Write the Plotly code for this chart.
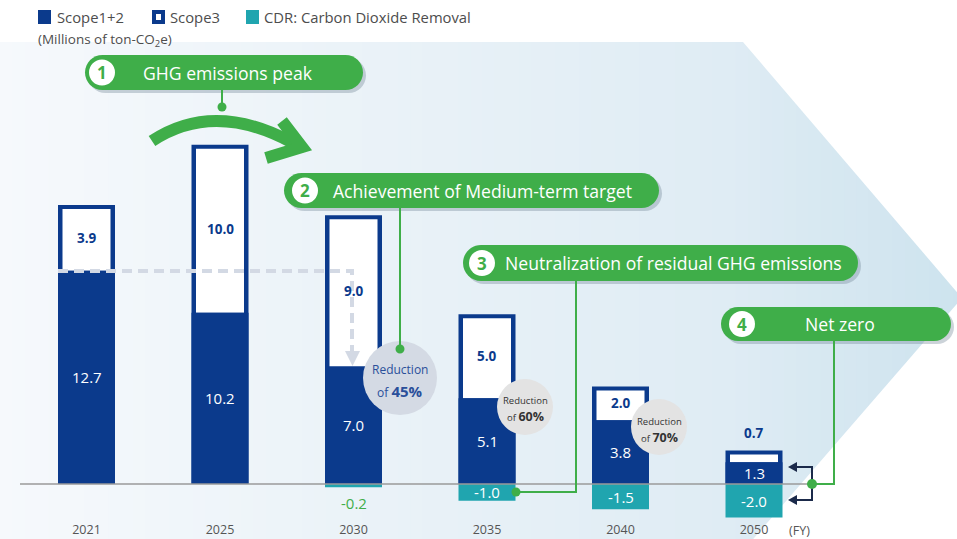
import plotly.graph_objects as go

# ---------------- data ----------------
years = ['2021', '2025', '2030', '2035', '2040', '2050']
scope12 = [12.7, 10.2, 7.0, 5.1, 3.8, 1.3]
scope3 = [3.9, 10.0, 9.0, 5.0, 2.0, 0.7]
cdr = [None, None, -0.2, -1.0, -1.5, -2.0]
reduction_pct = [None, None, '45%', '60%', '70%', None]
milestones = ['GHG emissions peak', 'Achievement of Medium-term target',
              'Neutralization of residual GHG emissions', 'Net zero']

# ---------------- style ----------------
NAVY = '#0b3a8c'
TEAL = '#20a5af'
GREEN = '#3fae49'
FONT = 'Open Sans'
W, H = 957, 539

# pixel -> data helpers for decorations
PX0, STEP, Y0, UNIT = 86.5, 133.5, 484, 16.8
def X(px): return (px - PX0) / STEP
def Y(py): return (Y0 - py) / UNIT

xs = list(range(len(years)))
totals = [a + b for a, b in zip(scope12, scope3)]
BW = 57 / STEP
IW = 48 / STEP
INSET = 4 / UNIT

fig = go.Figure()

# bars
fig.add_trace(go.Bar(x=xs, y=totals, width=BW, marker=dict(color=NAVY, line=dict(width=0)),
                     name='Scope3 outline', showlegend=False, hoverinfo='skip'))
fig.add_trace(go.Bar(x=xs, y=[v - INSET for v in scope3], base=scope12, width=IW,
                     marker=dict(color='white', line=dict(width=0)), name='Scope3', showlegend=False))
fig.add_trace(go.Bar(x=xs, y=scope12, width=BW, marker=dict(color=NAVY, line=dict(width=0)),
                     name='Scope1+2', showlegend=False))
fig.add_trace(go.Bar(x=xs, y=cdr, width=BW, marker=dict(color=TEAL, line=dict(width=0)),
                     name='CDR', showlegend=False))

shapes = []
ann = []

def line(pts, color, width, dash=None):
    p = 'M ' + ' L '.join(f'{X(a)},{Y(b)}' for a, b in pts)
    shapes.append(dict(type='path', path=p, line=dict(color=color, width=width, dash=dash),
                       xref='x', yref='y'))

def poly(pts, color, layer='above'):
    p = 'M ' + ' L '.join(f'{X(a)},{Y(b)}' for a, b in pts) + ' Z'
    shapes.append(dict(type='path', path=p, fillcolor=color, line=dict(width=0), xref='x', yref='y',
                       layer=layer))

def circle(cx, cy, r, color):
    shapes.append(dict(type='circle', x0=X(cx - r), x1=X(cx + r), y0=Y(cy + r), y1=Y(cy - r),
                       fillcolor=color, line=dict(width=0), xref='x', yref='y'))

def pill(x0, y0, x1, y1, color):
    r = (y1 - y0) / 2
    k = 0.5523 * r
    P = lambda a, b: f'{X(a)},{Y(b)}'
    p = (f'M {P(x0 + r, y0)} L {P(x1 - r, y0)} '
         f'C {P(x1 - r + k, y0)} {P(x1, y0 + r - k)} {P(x1, y0 + r)} '
         f'C {P(x1, y0 + r + k)} {P(x1 - r + k, y1)} {P(x1 - r, y1)} '
         f'L {P(x0 + r, y1)} '
         f'C {P(x0 + r - k, y1)} {P(x0, y0 + r + k)} {P(x0, y0 + r)} '
         f'C {P(x0, y0 + r - k)} {P(x0 + r - k, y0)} {P(x0 + r, y0)} Z')
    shapes.append(dict(type='path', path=p, fillcolor=color, line=dict(width=0), xref='x', yref='y'))

def text(px, py, s, size, color, bold=False, anchor='center'):
    ann.append(dict(x=X(px), y=Y(py), xref='x', yref='y', text=(f'<b>{s}</b>' if bold else s),
                    showarrow=False, xanchor=anchor, yanchor='middle',
                    font=dict(family=FONT, size=size, color=color)))

# background arrow: horizontal gradient stripes, trimmed by white triangles
def mix(c1, c2, t):
    a = [int(c1[i:i + 2], 16) for i in (1, 3, 5)]
    b = [int(c2[i:i + 2], 16) for i in (1, 3, 5)]
    return '#' + ''.join(f'{round(u + (v - u) * t):02x}' for u, v in zip(a, b))

NS = 80
sw = 965 / NS
for i in range(NS):
    t = (i + 0.5) / NS
    c = mix('#f6f9fc', '#dfecf4', t / 0.75) if t < 0.75 else mix('#dfecf4', '#cde3ee', (t - 0.75) / 0.25)
    poly([(i * sw, 42), ((i + 1) * sw + 1, 42), ((i + 1) * sw + 1, 545), (i * sw, 545)], c, 'below')
poly([(743, 42), (962, 298), (975, 298), (975, 30), (743, 30)], 'white', 'below')
poly([(962, 298), (748, 545), (975, 545), (975, 298)], 'white', 'below')

# baseline
line([(20, 484), (812, 484)], '#9a9a9a', 1.5)

# dashed reference from 2021 scope1+2 level
line([(58, 271), (352, 271), (352, 351)], '#d3d9e4', 4, '10px,6px')
poly([(345, 351), (360, 351), (352.5, 366)], '#d3d9e4')

# reduction circles
circ = {2: (400, 378, 37, '#d4dae4', '#2a4f9a', 12, 15, 369, 391),
        3: (525, 407, 28, '#e3e3e3', '#333333', 9.5, 12.5, 400, 416),
        4: (659, 427, 28, '#e3e3e3', '#333333', 9.5, 12.5, 421, 437)}
for i, pct in enumerate(reduction_pct):
    if pct is None:
        continue
    cx, cy, r, fc, tc, s1, s2, ty1, ty2 = circ[i]
    circle(cx, cy, r, fc)
    text(cx, ty1, 'Reduction', s1, tc)
    text(cx, ty2, f'of <b><span style="font-size:{s2}px">{pct}</span></b>', s1, tc)

# green curved arrow
shapes.append(dict(type='path',
                   path=f'M {X(152)},{Y(141)} Q {X(214)},{Y(100)} {X(293)},{Y(143)}',
                   line=dict(color=GREEN, width=12), xref='x', yref='y'))
line([(282, 121), (302, 147), (266, 158)], GREEN, 12)

# callouts
pills = [(85, 55, 363, 90, 102, 228), (284, 173, 659, 208, 305, 482),
         (463, 245, 858, 281, 482, 673), (721, 307, 951, 341, 742, 840)]
for k, (x0, y0, x1, y1, nc, tc) in enumerate(pills):
    pill(x0 + 3, y0 + 3, x1 + 3, y1 + 3, 'rgba(110,130,145,0.35)')
    pill(x0, y0, x1, y1, GREEN)
    cy = (y0 + y1) / 2
    circle(nc, cy, 13, 'white')
    text(nc, cy, str(k + 1), 17, GREEN, bold=True)
    text(tc, cy, milestones[k], 17.6, 'white')

# connectors
line([(222, 90), (222, 106)], GREEN, 2)
circle(222, 107, 4.5, GREEN)
line([(400, 208), (400, 349)], GREEN, 2)
circle(400, 349, 4.5, GREEN)
line([(576, 281), (576, 492), (516, 492)], GREEN, 2)
circle(516, 492, 4.5, GREEN)
line([(834, 341), (834, 484), (812, 484)], GREEN, 2)
# bracket arrows
line([(795, 467), (812, 467), (812, 500), (795, 500)], '#1b2a4a', 2)
poly([(788, 467), (797, 462), (797, 472)], '#1b2a4a')
poly([(788, 500), (797, 495), (797, 505)], '#1b2a4a')
circle(812, 484, 5, GREEN)

# bar value labels
for i in xs:
    ann.append(dict(x=i, y=scope12[i] / 2, text=f'{scope12[i]:.1f}', showarrow=False,
                    font=dict(family=FONT, size=15, color='white')))
    if scope3[i] >= 1:
        ann.append(dict(x=i, y=scope12[i] + scope3[i] / 2, text=f'<b>{scope3[i]:.1f}</b>',
                        showarrow=False, font=dict(family=FONT, size=13.5, color=NAVY)))
    else:
        ann.append(dict(x=i, y=totals[i], text=f'<b>{scope3[i]:.1f}</b>', showarrow=False,
                        yanchor='bottom', yshift=6, font=dict(family=FONT, size=13.5, color=NAVY)))
    if cdr[i] is not None:
        if cdr[i] > -0.5:
            ann.append(dict(x=i, y=cdr[i], text=f'{cdr[i]:.1f}', showarrow=False, yanchor='top',
                            yshift=-4, font=dict(family=FONT, size=15, color=GREEN)))
        else:
            ann.append(dict(x=i, y=cdr[i] / 2, text=f'{cdr[i]:.1f}', showarrow=False,
                            font=dict(family=FONT, size=15, color='white')))

# legend
for x0, col in [(38, NAVY), (152, NAVY), (246, TEAL)]:
    shapes.append(dict(type='rect', xref='x', yref='y', x0=X(x0), x1=X(x0 + 13), y0=Y(24), y1=Y(10),
                       fillcolor=col, line=dict(width=0)))
shapes.append(dict(type='rect', xref='x', yref='y', x0=X(156), x1=X(161), y0=Y(20), y1=Y(14),
                   fillcolor='white', line=dict(width=0)))
text(55, 17, 'Scope1+2', 14.8, '#4d4d4d', anchor='left')
text(168, 17, 'Scope3', 14.8, '#4d4d4d', anchor='left')
text(262, 17, 'CDR: Carbon Dioxide Removal', 14.8, '#4d4d4d', anchor='left')
text(36, 40, '(Millions of ton-CO<sub>2</sub>e)', 13.5, '#4d4d4d', anchor='left')
text(799, 530, '(FY)', 12.5, '#555555')

fig.update_layout(
    width=W, height=H, margin=dict(l=0, r=0, t=0, b=0),
    paper_bgcolor='white', plot_bgcolor='white',
    barmode='overlay', showlegend=False,
    shapes=shapes, annotations=ann,
    font=dict(family=FONT),
    xaxis=dict(range=[X(0), X(W)], tickvals=xs, ticktext=years, ticklabelposition='inside',
               showgrid=False, zeroline=False, showline=False, ticks='',
               tickfont=dict(family=FONT, size=12.5, color='#555555'), fixedrange=True),
    yaxis=dict(range=[Y(H), Y(0)], visible=False, showgrid=False, zeroline=False, fixedrange=True),
)

fig.write_html('out.html', config={'displayModeBar': False},
               post_script="document.body.style.margin='0px';"
                           "document.documentElement.style.overflow='hidden';")
